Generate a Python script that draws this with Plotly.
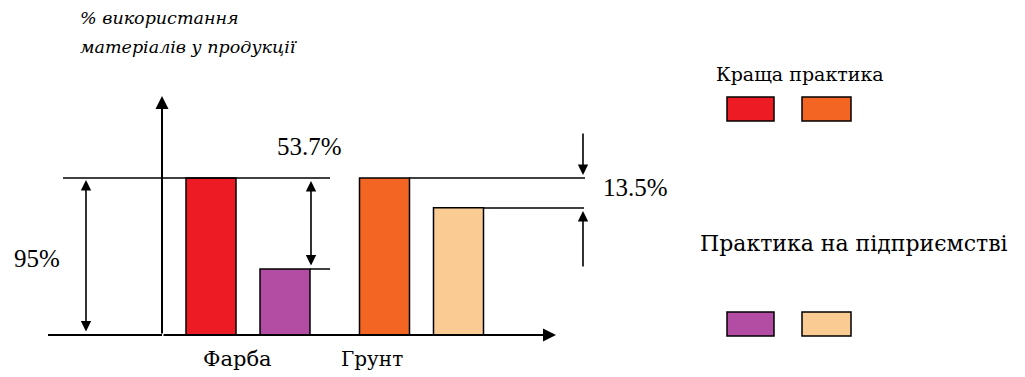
import plotly.graph_objects as go

# Data
categories = ["Фарба", "Грунт"]
best_practice = [95, 95]          # Краща практика
plant_practice = [40, 77]         # Практика на підприємстві
best_colors = ["#ED1C24", "#F26522"]
plant_colors = ["#B24DA3", "#FBCB94"]
gap_labels = ["53.7%", "13.5%"]
total_label = "95%"

W, H = 1025, 377
FONT = "Liberation Serif"
CYR_FONT = "DejaVu Serif"

# Axis geometry (pixels in the page)
x_base_px = 335          # y = 0
y_per_px = 95 / (335 - 178)
slot_px = 173.5          # width of one category slot
first_center_px = 248

y_range = [-(H - x_base_px) * y_per_px, x_base_px * y_per_px]
x0 = -first_center_px / slot_px
x_range = [x0, x0 + W / slot_px]


def px(x):
    return x / W


def py(y):
    return 1 - y / H


fig = go.Figure()
fig.add_trace(go.Bar(x=categories, y=best_practice, name="Краща практика",
                     marker=dict(color=best_colors, line=dict(color="black", width=1.5))))
fig.add_trace(go.Bar(x=categories, y=plant_practice, name="Практика на підприємстві",
                     marker=dict(color=plant_colors, line=dict(color="black", width=1.5))))

shapes = []
annotations = []


def line(xa, ya, xb, yb, w=1.5):
    shapes.append(dict(type="line", xref="paper", yref="paper",
                       x0=px(xa), y0=py(ya), x1=px(xb), y1=py(yb),
                       line=dict(color="black", width=w)))


def arrow(xt, yt, xs, ys, both=False, w=1.6):
    annotations.append(dict(xref="paper", yref="paper", x=px(xt), y=py(yt),
                            axref="pixel", ayref="pixel", ax=xs - xt, ay=ys - yt,
                            showarrow=True, arrowhead=2, startarrowhead=2,
                            arrowsize=1.3, startarrowsize=1.3, arrowwidth=w,
                            arrowcolor="black",
                            arrowside="end+start" if both else "end", text=""))


def text(s, x, y, size, anchor="center", italic=False, family=FONT):
    annotations.append(dict(xref="paper", yref="paper", x=px(x), y=py(y), text=s,
                            showarrow=False, xanchor=anchor, yanchor="middle",
                            font=dict(family=family, size=size, color="black",
                                      style="italic" if italic else "normal")))


# Axes with arrowheads
line(48, x_base_px, 162, x_base_px, 2)
arrow(162, 96, 162, x_base_px, w=2)
arrow(556, x_base_px, 162, x_base_px, w=2)

# Reference lines at bar tops
line(63, 178, 330, 178)
line(310, 269, 330, 269)
line(409, 178, 585, 178)
line(483, 208, 584, 208)

# Dimension arrows
arrow(86, 180, 86, 333, both=True)
arrow(311, 181, 311, 267, both=True)
arrow(583, 175, 583, 132)
arrow(583, 211, 583, 268)

# Labels
text(total_label, 37, 258, 25)
text(gap_labels[0], 309, 146, 25)
text(gap_labels[1], 601, 187, 25, anchor="left")
text(categories[0], 237, 359, 21, family=CYR_FONT)
text(categories[1], 372, 359, 20, family=CYR_FONT)
text("% використання", 78, 18, 17.5, anchor="left", italic=True, family=CYR_FONT)
text("матеріалів у продукції", 78, 47, 17.5, anchor="left", italic=True, family=CYR_FONT)

# Legend drawn as text with paired swatches
text("Краща практика", 714, 74, 19, anchor="left", family=CYR_FONT)
text("Практика на підприємстві", 698, 243, 22, anchor="left", family=CYR_FONT)
for (ya, yb), cols in (((97, 121), best_colors), ((312, 336), plant_colors)):
    for (xa, xb), c in zip(((727, 774), (802, 851)), cols):
        shapes.append(dict(type="rect", xref="paper", yref="paper",
                           x0=px(xa), x1=px(xb), y0=py(yb), y1=py(ya),
                           fillcolor=c, line=dict(color="black", width=1.5)))

fig.update_layout(
    width=W, height=H, margin=dict(l=0, r=0, t=0, b=0),
    paper_bgcolor="white", plot_bgcolor="white",
    barmode="group", bargap=1 - 148 / slot_px, bargroupgap=1 - 50 / 74,
    showlegend=False,
    xaxis=dict(range=x_range, visible=False, fixedrange=True),
    yaxis=dict(range=y_range, visible=False, fixedrange=True),
    shapes=shapes, annotations=annotations,
)

fig.write_html("out.html", config={"displayModeBar": False})
